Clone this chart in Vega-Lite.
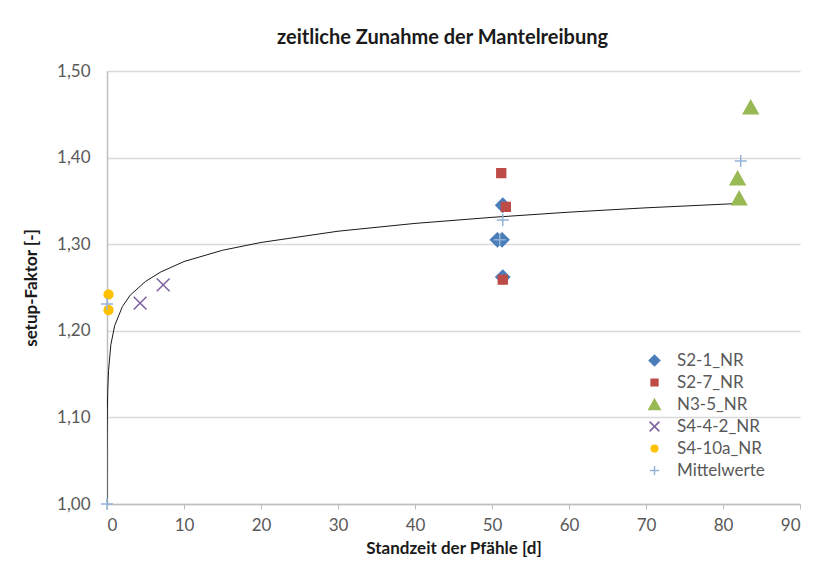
{
  "$schema": "https://vega.github.io/schema/vega-lite/v6.json",
  "width": 693,
  "height": 433,
  "autosize": {"type": "none"},
  "padding": {"left": 107, "top": 71, "right": 37, "bottom": 75},
  "background": "white",
  "title": {"text": "zeitliche Zunahme der Mantelreibung", "fontSize": 20, "font": "Lato", "fontWeight": "bold", "color": "#1a1a1a", "offset": 14, "dx": -11, "anchor": "middle"},
  "config": {
    "font": "Lato",
    "view": {"stroke": null},
    "axis": {"labelFont": "Lato", "labelFontSize": 17, "labelColor": "#595959", "titleFont": "Lato", "titleFontSize": 17, "titleFontWeight": "bold", "titleColor": "#1a1a1a", "domainColor": "#bfbfbf", "domainWidth": 1.5, "tickColor": "#bfbfbf"},
    "legend": {"labelFont": "Lato", "labelFontSize": 17, "labelColor": "#595959", "symbolStrokeWidth": 1.5}
  },
  "datasets": {
    "pts": [
      {"x": 51.4, "y": 1.345, "s": "S2-1_NR"},
      {"x": 50.7, "y": 1.305, "s": "S2-1_NR"},
      {"x": 51.3, "y": 1.305, "s": "S2-1_NR"},
      {"x": 51.4, "y": 1.262, "s": "S2-1_NR"},
      {"x": 51.2, "y": 1.382, "s": "S2-7_NR"},
      {"x": 51.8, "y": 1.343, "s": "S2-7_NR"},
      {"x": 51.4, "y": 1.259, "s": "S2-7_NR"},
      {"x": 83.6, "y": 1.458, "s": "N3-5_NR"},
      {"x": 81.9, "y": 1.376, "s": "N3-5_NR"},
      {"x": 82.1, "y": 1.353, "s": "N3-5_NR"},
      {"x": 4.3, "y": 1.232, "s": "S4-4-2_NR"},
      {"x": 7.3, "y": 1.253, "s": "S4-4-2_NR"},
      {"x": 0.2, "y": 1.242, "s": "S4-10a_NR"},
      {"x": 0.2, "y": 1.224, "s": "S4-10a_NR"},
      {"x": 0.0, "y": 1.0, "s": "Mittelwerte"},
      {"x": 0.0, "y": 1.231, "s": "Mittelwerte"},
      {"x": 51.0, "y": 1.305, "s": "Mittelwerte"},
      {"x": 51.4, "y": 1.328, "s": "Mittelwerte"},
      {"x": 82.3, "y": 1.396, "s": "Mittelwerte"}
    ],
    "trend": [
      {"x": 0.0015, "y": 1.0},
      {"x": 0.005, "y": 1.036},
      {"x": 0.01, "y": 1.059},
      {"x": 0.02, "y": 1.081},
      {"x": 0.05, "y": 1.11},
      {"x": 0.1, "y": 1.132},
      {"x": 0.2, "y": 1.154},
      {"x": 0.5, "y": 1.184},
      {"x": 1, "y": 1.206},
      {"x": 2, "y": 1.228},
      {"x": 3, "y": 1.241},
      {"x": 5, "y": 1.257},
      {"x": 7, "y": 1.268},
      {"x": 10, "y": 1.28},
      {"x": 15, "y": 1.293},
      {"x": 20, "y": 1.302},
      {"x": 30, "y": 1.315},
      {"x": 40, "y": 1.324},
      {"x": 50, "y": 1.331},
      {"x": 60, "y": 1.337},
      {"x": 70, "y": 1.342},
      {"x": 82, "y": 1.347}
    ]
  },
  "layer": [
    {
      "data": {"name": "trend"},
      "mark": {"type": "line", "color": "#1a1a1a", "strokeWidth": 1, "clip": true},
      "encoding": {
        "x": {"field": "x", "type": "quantitative", "scale": {"domain": [0, 90], "nice": false, "zero": false},
          "axis": {"title": "Standzeit der Pfähle [d]", "values": [0,10,20,30,40,50,60,70,80,90], "grid": false, "tickSize": 5, "labelPadding": 8, "titlePadding": 7}},
        "y": {"field": "y", "type": "quantitative", "scale": {"domain": [1.0, 1.5], "nice": false, "zero": false},
          "axis": {"title": "setup-Faktor [-]", "values": [1.0,1.1,1.2,1.3,1.4,1.5], "grid": true, "gridColor": "#d9d9d9", "gridWidth": 1.5, "ticks": false, "labelPadding": 17, "titlePadding": 16,
            "labelExpr": "replace(format(datum.value, '.2f'), '.', ',')"}}
      }
    },
    {
      "data": {"name": "pts"},
      "mark": {"type": "point", "filled": true, "size": 256, "strokeWidth": 1.5, "opacity": 1},
      "encoding": {
        "x": {"field": "x", "type": "quantitative"},
        "y": {"field": "y", "type": "quantitative"},
        "shape": {"field": "s", "type": "nominal", "sort": null,
          "scale": {"domain": ["S2-1_NR","S2-7_NR","N3-5_NR","S4-4-2_NR","S4-10a_NR","Mittelwerte"],
            "range": ["M0,-0.86L0.86,0L0,0.86L-0.86,0Z", "M-0.55,-0.55H0.55V0.55H-0.55Z", "M0,-0.85L0.92,0.8L-0.92,0.8Z", "M-0.8,-0.8L0.8,0.8M-0.8,0.8L0.8,-0.8", "M0.55,0A0.55,0.55 0 1,1 -0.55,0A0.55,0.55 0 1,1 0.55,0Z", "M-0.75,0H0.75M0,-0.75V0.75"]},
          "legend": {"title": null, "orient": "none", "legendX": 539, "legendY": 281, "padding": 0, "symbolSize": 150, "rowPadding": 4, "labelOffset": 14}},
        "fill": {"field": "s", "type": "nominal", "sort": null,
          "scale": {"domain": ["S2-1_NR","S2-7_NR","N3-5_NR","S4-4-2_NR","S4-10a_NR","Mittelwerte"],
            "range": ["#4a7ebb","#be4b48","#98b954","#7d60a0","#ffc000","#95b3d7"]},
          "legend": {"title": null, "orient": "none", "legendX": 539, "legendY": 281, "padding": 0, "symbolSize": 150, "rowPadding": 4, "labelOffset": 14}},
        "stroke": {"field": "s", "type": "nominal", "sort": null,
          "scale": {"domain": ["S2-1_NR","S2-7_NR","N3-5_NR","S4-4-2_NR","S4-10a_NR","Mittelwerte"],
            "range": ["#4a7ebb","#be4b48","#98b954","#7d60a0","#ffc000","#95b3d7"]},
          "legend": {"title": null, "orient": "none", "legendX": 539, "legendY": 281, "padding": 0, "symbolSize": 150, "rowPadding": 4, "labelOffset": 14}},
        "order": {"value": 0}
      }
    }
  ]
}
